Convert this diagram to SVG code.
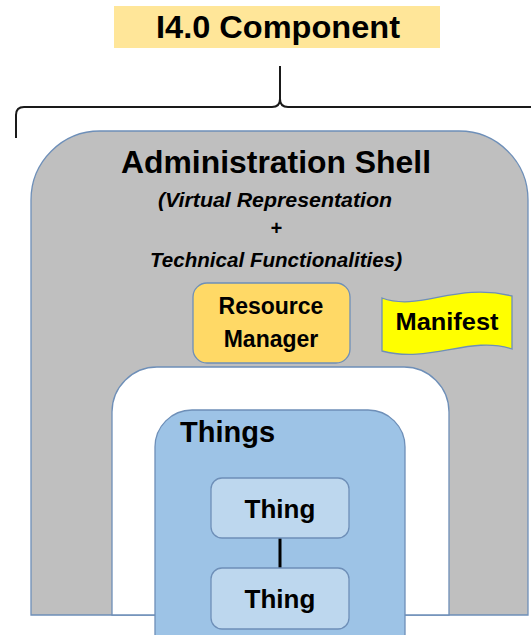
<svg xmlns="http://www.w3.org/2000/svg" width="531" height="635" viewBox="0 0 531 635">
<style>
.t{font-family:"Liberation Sans",Arial,sans-serif;font-weight:bold;fill:#000;text-anchor:middle}
.it{font-style:italic;font-size:20px}
.edge{stroke:#6E8FB8;stroke-width:1.3}
</style>
<rect width="531" height="635" fill="#fff"/>
<g id="title">
<rect x="114" y="6" width="326" height="42" fill="#FFE699"/>
<text class="t" x="278" y="38" font-size="32" textLength="244" lengthAdjust="spacingAndGlyphs">I4.0 Component</text>
</g>
<g id="admin-shell">
<path class="edge" d="M31,615 V200 A69,69 0 0 1 100,131 H459 A69,69 0 0 1 528,200 V615 Z" fill="#BFBFBF"/>
<text class="t" x="276" y="173" font-size="31" textLength="310" lengthAdjust="spacingAndGlyphs">Administration Shell</text>
<text class="t it" x="275" y="207" textLength="234" lengthAdjust="spacingAndGlyphs">(Virtual Representation</text>
<text class="t it" x="276" y="235">+</text>
<text class="t it" x="276" y="267" textLength="252" lengthAdjust="spacingAndGlyphs">Technical Functionalities)</text>
</g>
<g id="resource-manager">
<rect class="edge" x="193" y="283" width="157" height="80" rx="14" fill="#FFD966"/>
<text class="t" x="271" y="314" font-size="23">Resource</text>
<text class="t" x="271" y="347" font-size="23">Manager</text>
</g>
<g id="manifest">
<path class="edge" d="M382,298 C420,312 455,282 512,296 V349 C470,335 430,364 382,351 Z" fill="#FFFF00"/>
<text class="t" x="447" y="330" font-size="24" textLength="103" lengthAdjust="spacingAndGlyphs">Manifest</text>
</g>
<g id="inner-frame">
<path class="edge" d="M112,615 V412 A45,45 0 0 1 157,367 H404 A45,45 0 0 1 449,412 V615 Z" fill="#FFFFFF"/>
</g>
<g id="things">
<path class="edge" d="M155,636 V447 A37,37 0 0 1 192,410 H368 A37,37 0 0 1 405,447 V636" fill="#9DC3E6"/>
<text class="t" x="180" y="442" font-size="29" style="text-anchor:start">Things</text>
</g>
<g id="connectors">
<path d="M16,138 V115 Q16,107 24,107 H272 Q280,107 280,99 V66 M280,99 Q280,107 288,107 H531" fill="none" stroke="#1a1a1a" stroke-width="2"/>
<line x1="280" y1="538" x2="280" y2="568" stroke="#000" stroke-width="3"/>
</g>
<g id="thing-1">
<rect class="edge" x="211" y="478" width="138" height="60" rx="11" fill="#BDD7EE"/>
<text class="t" x="280" y="518" font-size="26">Thing</text>
</g>
<g id="thing-2">
<rect class="edge" x="211" y="568" width="138" height="61" rx="11" fill="#BDD7EE"/>
<text class="t" x="280" y="608" font-size="26">Thing</text>
</g>
</svg>
